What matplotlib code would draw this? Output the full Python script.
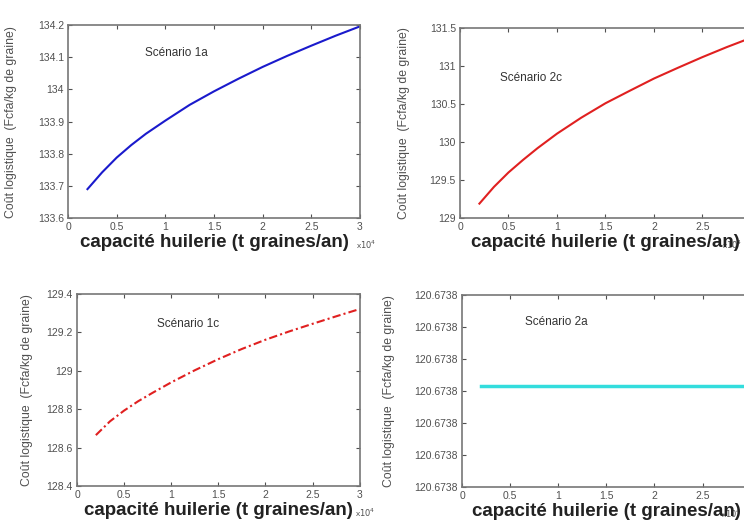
#Coût logistique en fonction de la capacité de l'huilerie, 4 scénarios
import numpy as np
import matplotlib.pyplot as plt
from matplotlib.transforms import blended_transform_factory

# capacité huilerie (x 10^4 t graines/an)
capacite = [0.2, 0.35, 0.5, 0.65, 0.8, 1.0, 1.25, 1.5, 1.75, 2.0, 2.25,
            2.5, 2.75, 3.0]

# coût logistique (Fcfa/kg de graine) par scénario
cout_1a = [133.690, 133.742, 133.788, 133.827, 133.862, 133.903, 133.952,
           133.994, 134.033, 134.070, 134.104, 134.136, 134.167, 134.196]
cout_2c = [129.19, 129.41, 129.60, 129.765, 129.92, 130.11, 130.32,
           130.51, 130.674, 130.835, 130.978, 131.117, 131.248, 131.370]
cout_1c = [128.665, 128.737, 128.793, 128.842, 128.885, 128.940, 129.003,
           129.061, 129.114, 129.162, 129.205, 129.245, 129.284, 129.322]
cout_2a = [120.673820] * 14

gris = '#505050'
plt.rcParams['font.family'] = ['Liberation Sans', 'DejaVu Sans']


def habillage(ax, titre, pos_titre, ylim, yticks, yfmt, x_lab, x_exp, ha_exp):
    ax.set_xlim(0, 3)
    ax.set_xticks(np.arange(0, 3.01, 0.5))
    ax.set_xticklabels(['0', '0.5', '1', '1.5', '2', '2.5', '3'])
    ax.set_ylim(*ylim)
    ax.set_yticks(yticks)
    ax.set_yticklabels([yfmt % v for v in yticks])
    ax.tick_params(direction='in', top=True, right=True, length=3,
                   labelsize=7.5, colors=gris, pad=3)
    for s in ax.spines.values():
        s.set_color('#777777')
        s.set_linewidth(1.2)
    ax.set_ylabel(u'Coût logistique  (Fcfa/kg de graine)', fontsize=8.8,
                  color=gris)
    # label y : x en pixels de la figure, y au milieu des axes
    trans = blended_transform_factory(fig.transFigure, ax.transAxes)
    ax.yaxis.set_label_coords(x_lab / 744.0, 0.5, transform=trans)
    ax.set_xlabel(u'capacité huilerie (t graines/an)', fontsize=13.5,
                  fontweight='bold', color='#222222', labelpad=1)
    ax.text(x_exp, -0.14, r'x$10^{4}$', transform=ax.transAxes, fontsize=6,
            color=gris, ha=ha_exp, va='center', zorder=0)
    ax.text(pos_titre[0], pos_titre[1], titre, transform=ax.transAxes,
            fontsize=8.5, color='#333333', va='center')


fig = plt.figure(figsize=(7.44, 5.28), dpi=100)

ax1 = fig.add_axes([0.0914, 0.587, 0.3925, 0.3655])
ax1.plot(capacite, cout_1a, color='#1a1acc', linewidth=1.5)
habillage(ax1, u'Scénario 1a', (0.264, 0.855), (133.6, 134.2),
          np.arange(133.6, 134.21, 0.1), '%g', 17, 0.985, 'left')

ax2 = fig.add_axes([0.6183, 0.587, 0.391, 0.36])
ax2.plot(capacite, cout_2c, color='#e02020', linewidth=1.5)
habillage(ax2, u'Scénario 2c', (0.137, 0.737), (129, 131.5),
          np.arange(129, 131.51, 0.5), '%g', 410, 0.969, 'right')

ax3 = fig.add_axes([0.1035, 0.0795, 0.380, 0.3636])
ax3.plot(capacite, cout_1c, color='#e02020', linewidth=1.5,
         linestyle=(0, (4, 1.5, 1, 1.5)))
habillage(ax3, u'Scénario 1c', (0.283, 0.844), (128.4, 129.4),
          np.arange(128.4, 129.41, 0.2), '%g', 33, 0.985, 'left')

ax4 = fig.add_axes([0.621, 0.0777, 0.388, 0.3636])
ax4.plot(capacite, cout_2a, color='#33dddd', linewidth=2.5)
pas = 1e-6
base = cout_2a[0] - 3.15 * pas
habillage(ax4, u'Scénario 2a', (0.218, 0.86), (base, base + 6 * pas),
          base + pas * np.arange(7), '%.4f', 395, 0.969, 'right')

fig.savefig('out.png', dpi=100)
